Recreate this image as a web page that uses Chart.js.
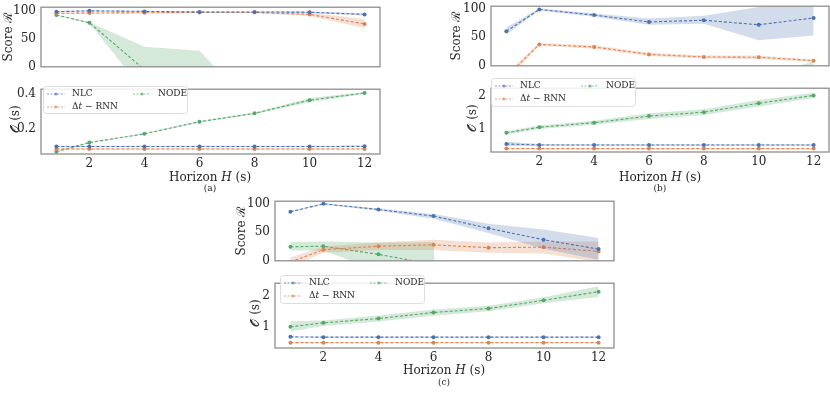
<!DOCTYPE html>
<html>
<head>
<meta charset="utf-8">
<script src="https://cdn.jsdelivr.net/npm/chart.js@4"></script>
<style>
  body { margin: 0; background: #fff; width: 830px; height: 396px; position: relative; overflow: hidden;
         font-family: 'DejaVu Serif', serif; color: #262626; }
  canvas { position: absolute; }
  .lbl { position: absolute; font-size: 12px; white-space: nowrap; transform: translate(-50%, -50%); }
  .ylbl { transform: translate(-50%, -50%) rotate(-90deg); }
  .sub { font-size: 9px; }
</style>
</head>
<body>
<div id="wrap"></div>
<script>
// horizons (x values)
const horizons = [0.8, 2, 4, 6, 8, 10, 12];
const xTicks = [2, 4, 6, 8, 10, 12];

// (a) score
const aScoreNlc   = [99, 100.5, 99.5, 98.5, 98.5, 98, 94];
const aScoreNlcLo = [98, 99.5, 98.5, 97.5, 97.5, 96.5, 92];
const aScoreNlcHi = [100, 101.5, 100.5, 99.5, 99.5, 99.5, 96];
const aScoreRnn   = [96, 96.5, 97, 97.5, 97.5, 94, 77];
const aScoreRnnLo = [95, 95.5, 96, 96.5, 96.5, 91, 69];
const aScoreRnnHi = [97, 97.5, 98, 98.5, 98.5, 97, 86];
const aScoreNode   = [93, 79, -5, -90, -160, -220, -280];
const aScoreNodeLo = [92, 78, -45, -200, -300, -350, -400];
const aScoreNodeHi = [94, 80, 36, 29, -76, -150, -200];

// (a) computation time
const aTimeNlc   = [0.097, 0.097, 0.097, 0.097, 0.097, 0.097, 0.098];
const aTimeNlcLo = [0.093, 0.093, 0.093, 0.093, 0.093, 0.093, 0.094];
const aTimeNlcHi = [0.101, 0.101, 0.101, 0.101, 0.101, 0.101, 0.102];
const aTimeRnn   = [0.083, 0.083, 0.083, 0.083, 0.083, 0.083, 0.083];
const aTimeRnnLo = [0.079, 0.079, 0.079, 0.079, 0.079, 0.079, 0.079];
const aTimeRnnHi = [0.087, 0.087, 0.087, 0.087, 0.087, 0.087, 0.087];
const aTimeNode   = [0.067, 0.12, 0.17, 0.24, 0.288, 0.364, 0.405];
const aTimeNodeLo = [0.064, 0.117, 0.167, 0.236, 0.283, 0.352, 0.399];
const aTimeNodeHi = [0.07, 0.123, 0.173, 0.244, 0.293, 0.376, 0.411];

// (b) score
const bScoreNlc   = [60.5, 99, 89, 77, 80, 72, 84];
const bScoreNlcLo = [55, 97, 86, 72, 74, 45, 53];
const bScoreNlcHi = [67, 101, 92, 83, 88, 103, 116];
const bScoreRnn   = [-19, 37.5, 33, 20, 15.5, 15, 9];
const bScoreRnnLo = [-25, 35, 30, 17, 13, 12, 7];
const bScoreRnnHi = [-13, 40, 36, 23, 18, 18, 11];
const bScoreNode   = [-300, -200, -150, -100, -70, -45, -10];
const bScoreNodeLo = [-400, -300, -250, -200, -150, -100, -30];
const bScoreNodeHi = [-200, -120, -100, -60, -40, -27, 9];

// (b) computation time
const bTimeNlc   = [0.53, 0.5, 0.5, 0.5, 0.5, 0.5, 0.5];
const bTimeNlcLo = [0.47, 0.48, 0.48, 0.48, 0.48, 0.48, 0.48];
const bTimeNlcHi = [0.6, 0.53, 0.52, 0.52, 0.52, 0.52, 0.52];
const bTimeRnn   = [0.39, 0.39, 0.39, 0.39, 0.39, 0.39, 0.39];
const bTimeRnnLo = [0.37, 0.37, 0.37, 0.37, 0.37, 0.37, 0.37];
const bTimeRnnHi = [0.41, 0.41, 0.41, 0.41, 0.41, 0.41, 0.41];
const bTimeNode   = [0.87, 1.04, 1.18, 1.38, 1.5, 1.77, 2.01];
const bTimeNodeLo = [0.82, 0.99, 1.12, 1.29, 1.41, 1.67, 1.93];
const bTimeNodeHi = [0.92, 1.09, 1.24, 1.47, 1.59, 1.87, 2.09];

// (c) score
const cScoreNlc   = [86, 100, 90, 78.5, 57, 37, 20.5];
const cScoreNlcLo = [85, 99, 88, 74, 49, 21, 2];
const cScoreNlcHi = [87, 101, 92, 82, 65, 55, 40];
const cScoreRnn   = [-2, 19.5, 25.6, 28, 23, 24, 16.5];
const cScoreRnnLo = [-10, 14, 19, 19, 14, 13, -2];
const cScoreRnnHi = [6, 25, 32, 37, 32, 34, 34];
const cScoreNode   = [24.6, 25.6, 11.3, -6.5, -60, -120, -180];
const cScoreNodeLo = [18, 18, -17, -50, -200, -300, -400];
const cScoreNodeHi = [33, 34, 32, 33, -2000, -2500, -3000];

// (c) computation time
const cTimeNlc   = [0.66, 0.65, 0.65, 0.65, 0.65, 0.65, 0.65];
const cTimeNlcLo = [0.645, 0.635, 0.635, 0.635, 0.635, 0.635, 0.635];
const cTimeNlcHi = [0.675, 0.665, 0.665, 0.665, 0.665, 0.665, 0.665];
const cTimeRnn   = [0.47, 0.47, 0.47, 0.47, 0.47, 0.47, 0.47];
const cTimeRnnLo = [0.455, 0.455, 0.455, 0.455, 0.455, 0.455, 0.455];
const cTimeRnnHi = [0.485, 0.485, 0.485, 0.485, 0.485, 0.485, 0.485];
const cTimeNode   = [0.99, 1.12, 1.26, 1.46, 1.59, 1.86, 2.14];
const cTimeNodeLo = [0.84, 1.02, 1.16, 1.35, 1.5, 1.76, 1.97];
const cTimeNodeHi = [1.17, 1.2, 1.36, 1.56, 1.68, 1.96, 2.32];

const seriesNames = ['NLC', 'Δt − RNN', 'NODE'];
const colors = ['#4c72b0', '#dd8452', '#55a868'];
const bandColors = ['rgba(76,114,176,0.25)', 'rgba(221,132,82,0.25)', 'rgba(85,168,104,0.25)'];
const lineColors = ['rgba(76,114,176,0.7)', 'rgba(221,132,82,0.7)', 'rgba(85,168,104,0.7)'];

const FONT = "'DejaVu Serif', serif";
const YW = 40, PAD = 8, XH = 22;

// gray frame round the plot area
const framePlugin = {
  id: 'frame',
  afterDraw(chart) {
    const a = chart.chartArea, ctx = chart.ctx;
    ctx.save();
    ctx.strokeStyle = '#8a8a8a';
    ctx.lineWidth = 1.25;
    ctx.strokeRect(a.left, a.top, a.right - a.left, a.bottom - a.top);
    ctx.restore();
  }
};

// matplotlib-like legend, two columns
function legendPlugin(box) {
  return {
    id: 'mplLegend',
    afterDraw(chart) {
      const ctx = chart.ctx;
      const cv = chart.canvas;
      const ox = box.x - parseFloat(cv.style.left), oy = box.y - parseFloat(cv.style.top);
      ctx.save();
      ctx.beginPath();
      ctx.roundRect(ox + 0.5, oy + 0.5, box.w, box.h, 3);
      ctx.fillStyle = 'rgba(255,255,255,0.85)';
      ctx.fill();
      ctx.strokeStyle = '#d4d4d4';
      ctx.lineWidth = 0.8;
      ctx.stroke();
      const slots = [[0, 0], [0, 1], [1, 0]];
      slots.forEach(([col, row], i) => {
        const sx = ox + 4 + col * 86, sy = oy + 8 + row * 13;
        ctx.strokeStyle = lineColors[i];
        ctx.lineWidth = 1;
        ctx.setLineDash([2, 1.5]);
        ctx.beginPath(); ctx.moveTo(sx, sy); ctx.lineTo(sx + 18, sy); ctx.stroke();
        ctx.setLineDash([]);
        ctx.fillStyle = lineColors[i];
        ctx.beginPath(); ctx.arc(sx + 9, sy, 1.6, 0, Math.PI * 2); ctx.fill();
        ctx.fillStyle = '#262626';
        ctx.textBaseline = 'middle';
        let tx = sx + 25;
        const fs = '9px ';
        if (i === 1) {
          ctx.font = fs + FONT;
          ctx.fillText('Δ', tx, sy); tx += ctx.measureText('Δ').width;
          ctx.font = 'italic ' + fs + FONT;
          ctx.fillText('t', tx, sy); tx += ctx.measureText('t').width;
          ctx.font = fs + FONT;
          ctx.fillText(' − RNN', tx, sy);
        } else {
          ctx.font = fs + FONT;
          ctx.fillText(seriesNames[i], tx, sy);
        }
      });
      ctx.restore();
    }
  };
}

function makeDatasets(sets) {
  const ds = [];
  sets.forEach(([mean, lo, hi], i) => {
    ds.push({ data: horizons.map((x, k) => ({ x, y: lo[k] })), borderWidth: 0, pointRadius: 0, fill: false });
    ds.push({ data: horizons.map((x, k) => ({ x, y: hi[k] })), borderWidth: 0, pointRadius: 0,
              fill: '-1', backgroundColor: bandColors[i] });
    ds.push({ data: horizons.map((x, k) => ({ x, y: mean[k] })), borderColor: colors[i], borderWidth: 1.1,
              borderDash: [3, 2], pointRadius: 2, pointBackgroundColor: colors[i], pointBorderWidth: 0,
              fill: false });
  });
  return ds;
}

function panel(box, yMin, yMax, yTicks, sets, showX, legendBox) {
  const cv = document.createElement('canvas');
  const left = box.l - YW, top = box.t - PAD;
  const w = box.r + PAD - left, h = box.b - top + (showX ? XH : PAD);
  cv.width = w; cv.height = h;
  cv.style.left = left + 'px'; cv.style.top = top + 'px';
  document.getElementById('wrap').appendChild(cv);
  const plugins = [framePlugin];
  if (legendBox) plugins.push(legendPlugin(legendBox));
  new Chart(cv.getContext('2d'), {
    type: 'line',
    data: { datasets: makeDatasets(sets) },
    options: {
      responsive: false, animation: false, events: [], devicePixelRatio: 1,
      layout: { padding: { left: 0, top: PAD, right: PAD, bottom: showX ? 0 : PAD } },
      plugins: { legend: { display: false }, tooltip: { enabled: false } },
      scales: {
        x: {
          type: 'linear', min: 0.24, max: 12.56, display: showX,
          grid: { display: false, drawTicks: false }, border: { display: false },
          afterBuildTicks: s => { s.ticks = xTicks.map(v => ({ value: v })); },
          afterFit: s => { s.height = showX ? XH : 0; },
          ticks: { font: { family: FONT, size: 12 }, color: '#262626', padding: 3, maxRotation: 0 }
        },
        y: {
          min: yMin, max: yMax,
          grid: { display: false, drawTicks: false }, border: { display: false },
          afterBuildTicks: s => { s.ticks = yTicks.map(v => ({ value: v })); },
          afterFit: s => { s.width = YW; },
          ticks: { font: { family: FONT, size: 12 }, color: '#262626', padding: 5, callback: v => String(v) }
        }
      }
    },
    plugins
  });
}

function label(html, x, y, cls) {
  const d = document.createElement('div');
  d.className = 'lbl ' + (cls || '');
  d.style.left = x + 'px'; d.style.top = y + 'px';
  d.innerHTML = html;
  document.getElementById('wrap').appendChild(d);
}

// (a)
panel({ l: 41, r: 380, t: 3, b: 71 }, 0, 107, [0, 50, 100],
  [[aScoreNlc, aScoreNlcLo, aScoreNlcHi], [aScoreRnn, aScoreRnnLo, aScoreRnnHi], [aScoreNode, aScoreNodeLo, aScoreNodeHi]], false);
panel({ l: 41, r: 380, t: 85, b: 154 }, 0.054, 0.427, [0.2, 0.4],
  [[aTimeNlc, aTimeNlcLo, aTimeNlcHi], [aTimeRnn, aTimeRnnLo, aTimeRnnHi], [aTimeNode, aTimeNodeLo, aTimeNodeHi]], true,
  { x: 43, y: 86, w: 144, h: 27 });
// (b)
panel({ l: 491, r: 829, t: 2, b: 70 }, 0, 104.6, [0, 50, 100],
  [[bScoreNlc, bScoreNlcLo, bScoreNlcHi], [bScoreRnn, bScoreRnnLo, bScoreRnnHi], [bScoreNode, bScoreNodeLo, bScoreNodeHi]], false);
panel({ l: 491, r: 829, t: 84, b: 152 }, 0.286, 2.23, [1, 2],
  [[bTimeNlc, bTimeNlcLo, bTimeNlcHi], [bTimeRnn, bTimeRnnLo, bTimeRnnHi], [bTimeNode, bTimeNodeLo, bTimeNodeHi]], true,
  { x: 491, y: 78, w: 144, h: 28 });
// (c)
panel({ l: 275, r: 614, t: 197, b: 265 }, 0, 104.6, [0, 50, 100],
  [[cScoreNlc, cScoreNlcLo, cScoreNlcHi], [cScoreRnn, cScoreRnnLo, cScoreRnnHi], [cScoreNode, cScoreNodeLo, cScoreNodeHi]], false);
panel({ l: 275, r: 614, t: 279, b: 348 }, 0.295, 2.42, [1, 2],
  [[cTimeNlc, cTimeNlcLo, cTimeNlcHi], [cTimeRnn, cTimeRnnLo, cTimeRnnHi], [cTimeNode, cTimeNodeLo, cTimeNodeHi]], true,
  { x: 280, y: 275, w: 144, h: 28 });

// axis titles
const scoreTitle = 'Score ℛ';
const timeTitle = '𝒪 (s)';
const xTitle = 'Horizon <i>H</i> (s)';
label(scoreTitle, 7, 37, 'ylbl');
label(timeTitle, 15, 119, 'ylbl');
label(xTitle, 210, 177);
label('(a)', 210, 188, 'sub');
label(scoreTitle, 455, 36, 'ylbl');
label(timeTitle, 472, 118, 'ylbl');
label(xTitle, 660, 177);
label('(b)', 660, 188, 'sub');
label(scoreTitle, 240, 231, 'ylbl');
label(timeTitle, 255, 313, 'ylbl');
label(xTitle, 444, 370);
label('(c)', 444, 382, 'sub');
</script>
</body>
</html>
